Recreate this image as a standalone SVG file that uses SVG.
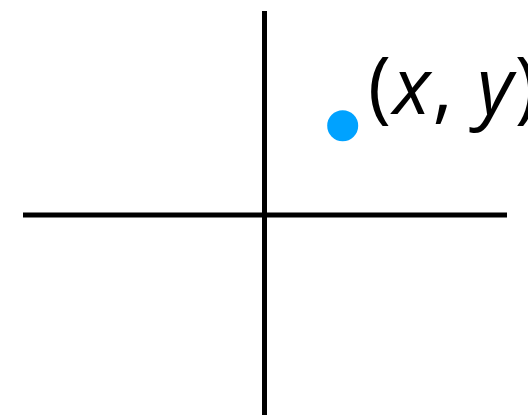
<svg xmlns="http://www.w3.org/2000/svg" width="528" height="415" viewBox="0 0 528 415">
<style>
.axis{stroke:#000;stroke-width:5;fill:none}
.lbl{font-family:"Open Sans",sans-serif;font-size:78px;fill:#000;letter-spacing:2px}
</style>
<rect width="528" height="415" fill="#fff"/>
<g id="axes">
<line class="axis" x1="23" y1="215" x2="507" y2="215"/>
<line class="axis" x1="264.5" y1="11" x2="264.5" y2="415"/>
</g>
<g id="point">
<circle cx="342.7" cy="125.7" r="15.5" fill="#00a2ff"/>
<text class="lbl" x="368" y="114">(<tspan font-style="italic">x</tspan>, <tspan font-style="italic">y</tspan>)</text>
</g>
</svg>
